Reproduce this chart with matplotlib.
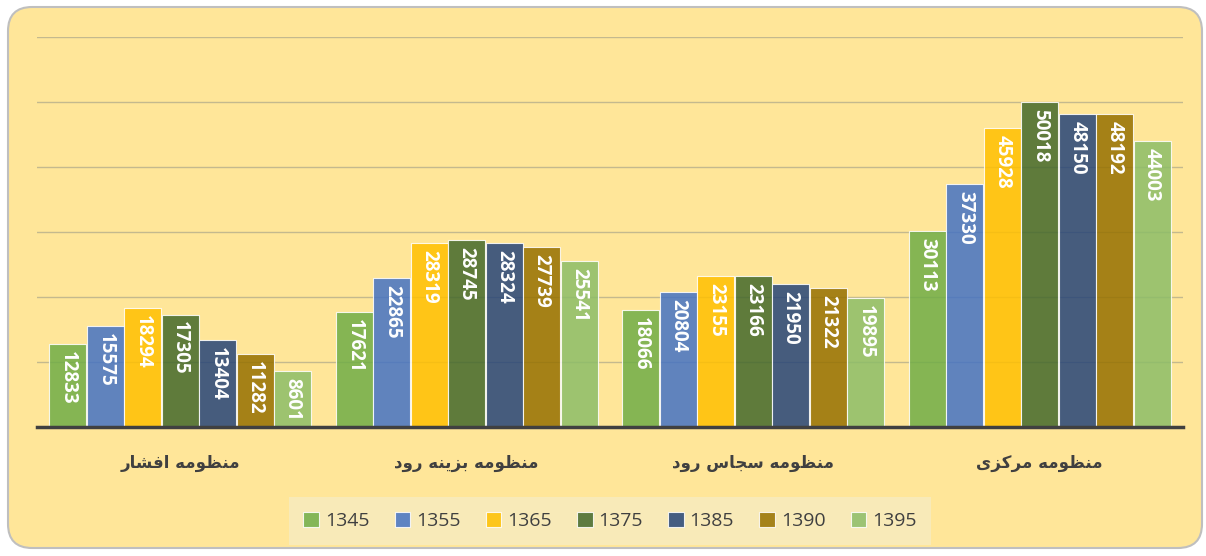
import numpy as np
import matplotlib.pyplot as plt
from matplotlib.patches import FancyBboxPatch

# داده ها
categories = ['منظومه افشار', 'منظومه بزینه رود', 'منظومه سجاس رود', 'منظومه مرکزی']
years = ['1345', '1355', '1365', '1375', '1385', '1390', '1395']
v1345 = [12833, 17621, 18066, 30113]
v1355 = [15575, 22865, 20804, 37330]
v1365 = [18294, 28319, 23155, 45928]
v1375 = [17305, 28745, 23166, 50018]
v1385 = [13404, 28324, 21950, 48150]
v1390 = [11282, 27739, 21322, 48192]
v1395 = [8601, 25541, 19895, 44003]
series = [v1345, v1355, v1365, v1375, v1385, v1390, v1395]

colors = ['#70AD47', '#4472C4', '#FFC000', '#43682B', '#264478', '#967000', '#8CBD68']

# شکل دادن حروف فارسی (matplotlib خودش این کار را نمی کند)
FORMS = {
    'ا': ('\uFE8D', '\uFE8E', None, None),
    'ب': ('\uFE8F', '\uFE90', '\uFE91', '\uFE92'),
    'ج': ('\uFE9D', '\uFE9E', '\uFE9F', '\uFEA0'),
    'د': ('\uFEA9', '\uFEAA', None, None),
    'ر': ('\uFEAD', '\uFEAE', None, None),
    'ز': ('\uFEAF', '\uFEB0', None, None),
    'س': ('\uFEB1', '\uFEB2', '\uFEB3', '\uFEB4'),
    'ش': ('\uFEB5', '\uFEB6', '\uFEB7', '\uFEB8'),
    'ظ': ('\uFEC5', '\uFEC6', '\uFEC7', '\uFEC8'),
    'ف': ('\uFED1', '\uFED2', '\uFED3', '\uFED4'),
    'م': ('\uFEE1', '\uFEE2', '\uFEE3', '\uFEE4'),
    'ن': ('\uFEE5', '\uFEE6', '\uFEE7', '\uFEE8'),
    'ه': ('\uFEE9', '\uFEEA', '\uFEEB', '\uFEEC'),
    'و': ('\uFEED', '\uFEEE', None, None),
    'ی': ('\uFBFC', '\uFBFD', '\uFBFE', '\uFBFF'),
    'ک': ('\uFB8E', '\uFB8F', '\uFB90', '\uFB91'),
}


def joins_next(c):
    return c in FORMS and FORMS[c][2] is not None


def shape(text):
    out = []
    for i, c in enumerate(text):
        if c not in FORMS:
            out.append(c)
            continue
        prev = text[i - 1] if i > 0 else ' '
        nxt = text[i + 1] if i < len(text) - 1 else ' '
        from_prev = joins_next(prev)
        to_next = joins_next(c) and nxt in FORMS
        iso, fin, ini, med = FORMS[c]
        if from_prev and to_next:
            out.append(med)
        elif from_prev:
            out.append(fin)
        elif to_next:
            out.append(ini)
        else:
            out.append(iso)
    return ''.join(out)[::-1]


fig = plt.figure(figsize=(12.06, 5.56), dpi=100)
fig.patch.set_facecolor('white')

# کادر گرد پس زمینه
box = FancyBboxPatch((8 / 1206, 8 / 556), 1194 / 1206, 541 / 556,
                     boxstyle='round,pad=0,rounding_size=0.02',
                     mutation_aspect=1206 / 556,
                     transform=fig.transFigure, facecolor='#FFE699',
                     edgecolor='#BFBFBF', linewidth=1.5, zorder=-10)
fig.patches.append(box)

ax = fig.add_axes([37 / 1206, 129 / 556, 1146 / 1206, 390 / 556])
ax.set_facecolor('none')
ax.set_zorder(1)

x = np.arange(len(categories))
w = 0.1307
for i, (vals, col) in enumerate(zip(series, colors)):
    pos = x + (i - 3) * w
    bars = ax.bar(pos, vals, width=w * 0.99, color=col, alpha=0.85,
                  edgecolor=(1, 1, 1, 0.6), linewidth=0.8, label=years[i], zorder=3)
    for b, v in zip(bars, vals):
        ax.annotate(str(v), (b.get_x() + b.get_width() / 2, v),
                    xytext=(0, -5), textcoords='offset points',
                    rotation=270, ha='center', va='top', color='white',
                    fontsize=13.5, fontweight='bold', family='Open Sans', zorder=4)

ax.set_xlim(-0.5, 3.5)
ax.set_ylim(0, 60000)
ax.set_yticks(np.arange(0, 60001, 10000))
ax.yaxis.grid(True, color='#C4B98E', linewidth=1, zorder=0)
ax.set_axisbelow(True)
ax.tick_params(axis='y', left=False, labelleft=False)
ax.tick_params(axis='x', bottom=False, pad=16)
ax.set_xticks(x)
ax.set_xticklabels([shape(c) for c in categories], fontsize=12,
                   fontweight='bold', color='#404040', family='DejaVu Sans')
for s in ['left', 'right', 'top']:
    ax.spines[s].set_visible(False)
ax.spines['bottom'].set_color('#404040')
ax.spines['bottom'].set_linewidth(2.5)
ax.spines['bottom'].set_zorder(5)

leg = ax.legend(loc='center', bbox_to_anchor=(0.5, (556 - 521 - 129) / 390),
                ncol=7, frameon=True, handlelength=0.8,
                handleheight=0.8, columnspacing=1.3, handletextpad=0.3,
                borderpad=0.75, prop={'family': 'Open Sans', 'size': 14})
leg.get_frame().set_facecolor('#F8EAB8')
leg.get_frame().set_edgecolor('none')
leg.get_frame().set_alpha(1)
leg.get_frame().set_boxstyle('square', pad=0)
for t in leg.get_texts():
    t.set_color('#404040')

fig.savefig('out.png', dpi=100)
